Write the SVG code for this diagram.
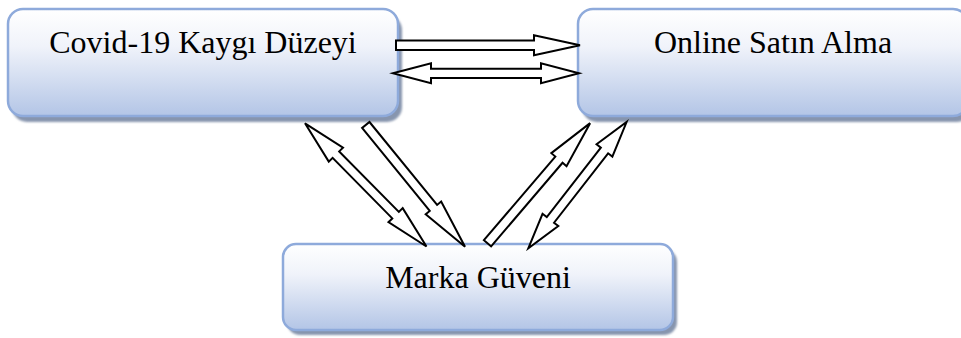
<svg xmlns="http://www.w3.org/2000/svg" width="961" height="338" viewBox="0 0 961 338">
<defs>
<linearGradient id="g" x1="0" y1="0" x2="0" y2="1">
<stop offset="0" stop-color="#ffffff"/>
<stop offset="0.35" stop-color="#f0f3fa"/>
<stop offset="1" stop-color="#b3c5e6"/>
</linearGradient>
<filter id="sh" x="-5%" y="-10%" width="110%" height="130%"><feGaussianBlur stdDeviation="1"/></filter>
</defs>
<style>
.box{fill:url(#g);stroke:#8eaadb;stroke-width:2.5}
.shadow{fill:#8795ae;filter:url(#sh)}
.lbl{font-family:"Liberation Serif","Times New Roman",serif;font-size:32px;fill:#000;text-anchor:middle}
.arr{fill:#fff;stroke:#000;stroke-width:2;stroke-linejoin:miter}
</style>
<g id="node-covid">
<rect class="shadow" x="12" y="15" width="390" height="107" rx="15"/>
<rect class="box" x="8" y="9" width="390" height="107" rx="15"/>
<text class="lbl" x="203" y="53">Covid-19 Kaygı Düzeyi</text>
</g>
<g id="node-online">
<rect class="shadow" x="582" y="15" width="390" height="107" rx="15"/>
<rect class="box" x="578" y="9" width="390" height="107" rx="15"/>
<text class="lbl" x="773" y="53">Online Satın Alma</text>
</g>
<g id="node-marka">
<rect class="shadow" x="287" y="249" width="390" height="86" rx="13"/>
<rect class="box" x="283" y="244" width="390" height="86" rx="13"/>
<text class="lbl" x="478" y="288">Marka Güveni</text>
</g>
<g id="connectors">
<polygon class="arr" transform="translate(396,45.3)" points="0,-4.75 138,-4.75 138,-10 184,0 138,10 138,4.75 0,4.75"/>
<polygon class="arr" transform="translate(393,73.3)" points="0,0 38,-10 38,-4.6 148,-4.6 148,-10 186,0 148,10 148,4.6 38,4.6 38,10"/>
<polygon class="arr" transform="translate(305,123.3) rotate(45.4)" points="0,0 44,-10 44,-4.6 129,-4.6 129,-10 173,0 129,10 129,4.6 44,4.6 44,10"/>
<polygon class="arr" transform="translate(365.8,125) rotate(50.8)" points="0,-4.75 107,-4.75 107,-10 157,0 107,10 107,4.75 0,4.75"/>
<polygon class="arr" transform="translate(487.5,243.3) rotate(-49.5)" points="0,-4.75 110,-4.75 110,-10 158,0 110,10 110,4.75 0,4.75"/>
<polygon class="arr" transform="translate(528.3,248.3) rotate(-52.1)" points="0,0 36,-10 36,-4.6 124,-4.6 124,-10 160,0 124,10 124,4.6 36,4.6 36,10"/>
</g>
</svg>
